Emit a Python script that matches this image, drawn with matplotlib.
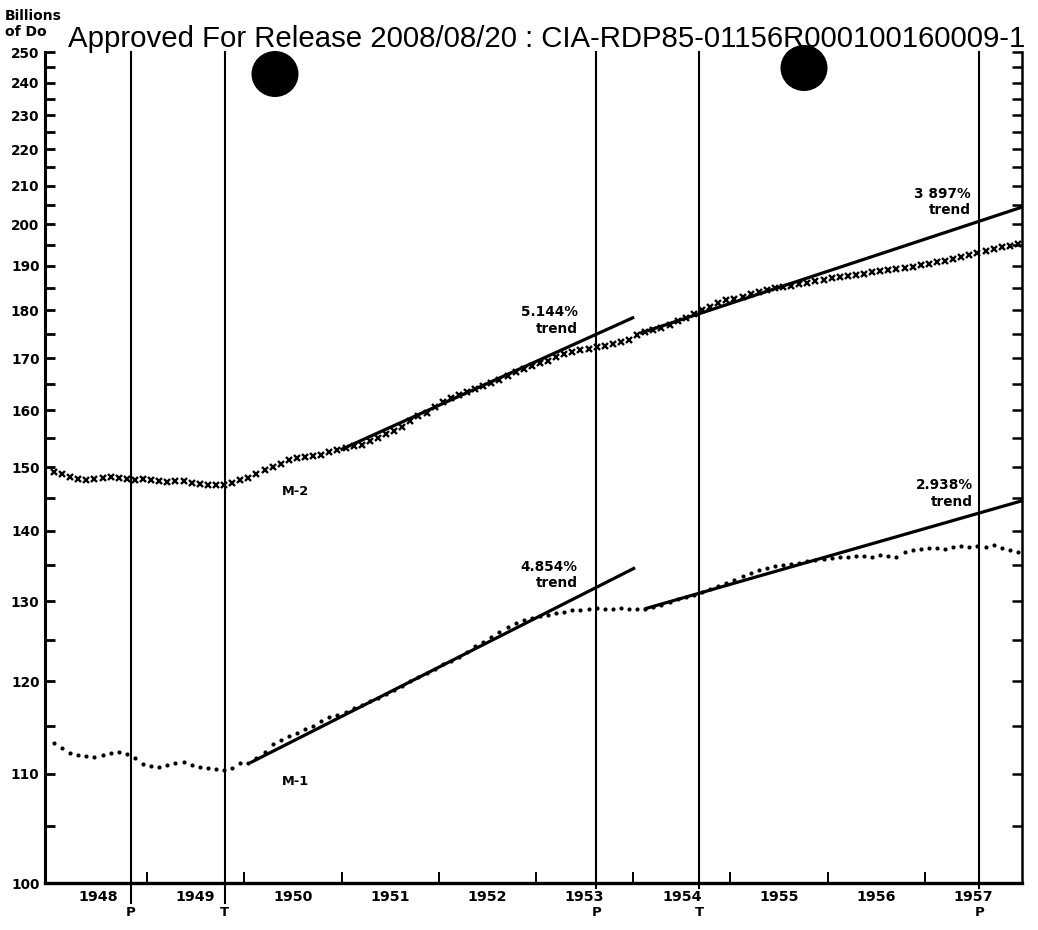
import numpy as np
import matplotlib
matplotlib.use("Agg")
import matplotlib.pyplot as plt
from matplotlib.patches import Ellipse
from matplotlib.ticker import NullFormatter

# ---------------- data ----------------
START_YEAR = 1948
YEAR_LABELS = [str(y) for y in range(1948, 1958)]

# M-2 monthly (billions of dollars), Jan 1948 .. Dec 1957
M2_VALUES = [
    149.2, 148.9, 148.4, 148.1, 148.0, 148.1, 148.3, 148.4, 148.3, 148.1, 148.0, 148.1,  # 1948
    147.9, 147.8, 147.6, 147.7, 147.8, 147.5, 147.3, 147.2, 147.2, 147.1, 147.4, 147.9,  # 1949
    148.3, 149.0, 149.6, 150.1, 150.6, 151.2, 151.6, 151.8, 151.9, 152.1, 152.6, 152.9,  # 1950
    153.3, 153.6, 153.9, 154.5, 155.0, 155.7, 156.3, 157.0, 158.1, 158.9, 159.6, 160.7,  # 1951
    161.6, 162.2, 162.8, 163.4, 164.0, 164.6, 165.2, 165.8, 166.5, 167.2, 167.8, 168.5,  # 1952
    169.0, 169.5, 170.2, 170.8, 171.2, 171.6, 171.9, 172.2, 172.5, 172.9, 173.3, 173.7,  # 1953
    174.8, 175.3, 175.7, 176.3, 176.9, 177.6, 178.3, 179.2, 180.0, 180.8, 181.5, 182.2,  # 1954
    182.5, 183.0, 183.6, 184.0, 184.4, 184.8, 185.1, 185.4, 185.8, 186.1, 186.5, 186.8,  # 1955
    187.1, 187.3, 187.6, 187.9, 188.2, 188.5, 188.8, 189.1, 189.3, 189.4, 189.7, 190.1,  # 1956
    190.4, 190.8, 191.2, 191.6, 192.0, 192.5, 193.0, 193.5, 194.0, 194.4, 194.8, 195.3,  # 1957
]

# M-1 monthly (billions of dollars), Jan 1948 .. Dec 1957
M1_VALUES = [
    113.2, 112.6, 112.1, 111.9, 111.8, 111.7, 111.9, 112.1, 112.2, 112.0, 111.6, 111.0,  # 1948
    110.8, 110.7, 110.9, 111.1, 111.2, 110.9, 110.7, 110.6, 110.5, 110.4, 110.6, 111.1,  # 1949
    111.1, 111.6, 112.2, 113.1, 113.5, 113.9, 114.2, 114.7, 115.0, 115.5, 115.9, 116.2,  # 1950
    116.5, 116.9, 117.3, 117.7, 118.1, 118.5, 119.0, 119.5, 120.0, 120.5, 121.0, 121.5,  # 1951
    122.0, 122.4, 122.9, 123.5, 124.2, 124.8, 125.4, 126.0, 126.6, 127.2, 127.6, 127.8,  # 1952
    128.0, 128.2, 128.4, 128.6, 128.8, 128.9, 129.0, 129.1, 129.0, 129.0, 129.1, 129.0,  # 1953
    129.0, 129.0, 129.2, 129.5, 129.9, 130.3, 130.6, 130.9, 131.3, 131.7, 132.1, 132.5,  # 1954
    132.9, 133.4, 133.9, 134.3, 134.6, 134.8, 135.0, 135.2, 135.3, 135.5, 135.7, 135.9,  # 1955
    136.0, 136.1, 136.2, 136.3, 136.3, 136.2, 136.4, 136.3, 136.1, 136.9, 137.1, 137.3,  # 1956
    137.4, 137.4, 137.3, 137.6, 137.7, 137.6, 137.7, 137.6, 137.9, 137.4, 137.1, 136.8,  # 1957
]

# trend lines: (start year, start value, end year, end value)
TREND_M2_A = (1950.99, 153.0, 1954.01, 178.5)
TREND_M2_B = (1954.07, 175.1, 1958.00, 204.4)
TREND_M1_A = (1950.06, 111.1, 1954.02, 134.6)
TREND_M1_B = (1954.12, 129.0, 1958.00, 144.6)
TREND_LABELS = ["5.144%\ntrend", "4.854%\ntrend", "3 897%\ntrend", "2.938%\ntrend"]
TREND_LABEL_POS = [(1953.43, 177.8), (1953.43, 133.6), (1957.47, 205.7), (1957.49, 145.75)]

# business-cycle turning points
TURN_YEARS = [1948.83, 1949.80, 1953.62, 1954.68, 1957.56]
TURN_LABELS = ["P", "T", "P", "T", "P"]

SERIES_LABELS = ["M-2", "M-1"]
SERIES_LABEL_POS = [(1950.53, 146.1), (1950.53, 109.2)]

Y_MAJOR = list(range(100, 251, 10))
Y_MINOR = list(range(105, 250, 10))
Y_RIGHT = list(range(100, 251, 5))

HEADER = "Approved For Release 2008/08/20 : CIA-RDP85-01156R000100160009-1"

# ---------------- figure ----------------
W, H = 1038, 930
fig = plt.figure(figsize=(W / 100, H / 100), dpi=100)
fig.patch.set_facecolor("white")

L, R, B, T = 45, 1022, 883, 52
ax = fig.add_axes([L / W, 1 - B / H, (R - L) / W, (B - T) / H])
ax.set_axisbelow(False)

def fwd(v):
    v = np.asarray(v, dtype=float)
    return np.log(np.maximum(v - 50.0, 1e-9))

def inv(u):
    return np.exp(np.asarray(u, dtype=float)) + 50.0

ax.set_yscale("function", functions=(fwd, inv))
ax.set_ylim(100, 250)
ax.set_xlim(1947.95, 1958.0)

t = START_YEAR + (np.arange(len(M2_VALUES)) + 0.5) / 12.0

ax.plot(t, M2_VALUES, linestyle="none", marker="x", ms=4.2, mew=1.7, color="black", zorder=3)
ax.plot(t, M1_VALUES, linestyle="none", marker="o", ms=3.0, mew=0, color="black", zorder=3)

for tr in (TREND_M2_A, TREND_M2_B, TREND_M1_A, TREND_M1_B):
    ax.plot([tr[0], tr[2]], [tr[1], tr[3]], color="black", lw=2.3,
            solid_capstyle="butt", zorder=4)

for (x, y), s in zip(TREND_LABEL_POS, TREND_LABELS):
    ax.text(x, y, s, ha="right", va="center", multialignment="right",
            fontsize=9.8, fontweight="bold", family="DejaVu Sans", linespacing=1.25)

for (x, y), s in zip(SERIES_LABEL_POS, SERIES_LABELS):
    ax.text(x, y, s, ha="center", va="center", fontsize=9.3,
            fontweight="bold", family="DejaVu Sans")

xt = ax.get_xaxis_transform()
for x, s in zip(TURN_YEARS, TURN_LABELS):
    ax.axvline(x, ymin=-0.024, ymax=1.0, color="black", lw=1.5, clip_on=False, zorder=2)
    ax.text(x, -0.036, s, transform=xt, ha="center", va="center",
            fontsize=9.5, fontweight="bold", family="DejaVu Sans")

# axes styling
ax.spines["top"].set_visible(False)
ax.spines["left"].set_linewidth(2.2)
ax.spines["bottom"].set_linewidth(2.4)
ax.spines["right"].set_linewidth(1.8)

ax.set_yticks(Y_MAJOR)
ax.set_yticklabels([str(v) for v in Y_MAJOR])
ax.set_yticks(Y_MINOR, minor=True)
ax.yaxis.set_minor_formatter(NullFormatter())
ax.tick_params(axis="y", which="both", direction="in", length=7, width=2.0,
               left=True, right=False, labelsize=9.8, pad=4)
for lab in ax.get_yticklabels():
    lab.set_fontweight("bold")
    lab.set_family("DejaVu Sans")

# right-side inward ticks via secondary axis
ay2 = ax.twinx()
ay2.set_yscale("function", functions=(fwd, inv))
ay2.set_ylim(100, 250)
ay2.set_yticks(Y_RIGHT)
ay2.yaxis.set_major_formatter(NullFormatter())
ay2.tick_params(axis="y", direction="in", length=7, width=1.8)
for side in ("top", "left", "bottom", "right"):
    ay2.spines[side].set_visible(False)

ax.set_xticks(list(range(1949, 1958)))
ax.xaxis.set_major_formatter(NullFormatter())
ax.set_xticks([y + 0.5 for y in range(1948, 1958)], minor=True)
ax.set_xticklabels(YEAR_LABELS, minor=True)
ax.tick_params(axis="x", which="major", direction="in", length=8, width=1.4)
ax.tick_params(axis="x", which="minor", length=0, labelsize=10.3, pad=5)
for lab in ax.get_xticklabels(minor=True):
    lab.set_fontweight("bold")
    lab.set_family("DejaVu Sans")
    lab.set_bbox(dict(facecolor="white", edgecolor="none", pad=0.5))

# header & corner labels
fig.text(68 / W, 1 - 47 / H, HEADER, fontsize=21.2, family="Liberation Sans",
         va="baseline", ha="left")
fig.text(5 / W, 1 - 20 / H, "Billions", fontsize=10, fontweight="bold",
         family="DejaVu Sans", va="baseline", ha="left")
fig.text(5 / W, 1 - 36 / H, "of Do", fontsize=10, fontweight="bold",
         family="DejaVu Sans", va="baseline", ha="left")

# punch-hole circles
for cx, cy in ((275, 74), (804, 68)):
    fig.add_artist(Ellipse((cx / W, 1 - cy / H), 47 / W, 46 / H,
                           transform=fig.transFigure, facecolor="black",
                           edgecolor="none"))

fig.savefig("out.png", dpi=100, facecolor="white")
